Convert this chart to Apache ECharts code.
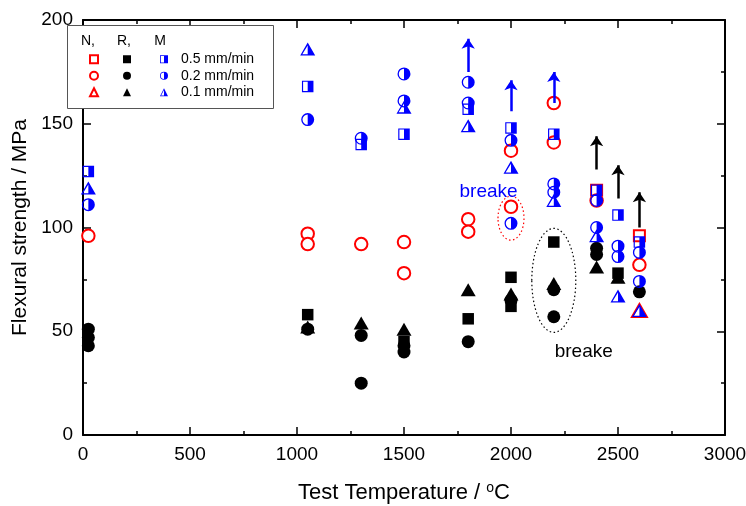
<!DOCTYPE html>
<html><head><meta charset="utf-8">
<script src="https://cdn.jsdelivr.net/npm/echarts@6/dist/echarts.min.js"></script>
<style>html,body{margin:0;padding:0;background:#fff}#c{width:746px;height:506px}</style>
</head><body><div id="c"></div>
<script>
// ---- data (test temperature °C, flexural strength MPa) ----
const xTicks = [0, 500, 1000, 1500, 2000, 2500, 3000];
const yTicks = [0, 50, 100, 150, 200];

const nSquare   = [[2400,118],[2600,96]];
const nCircle   = [[25,96],[1050,97],[1050,92],[1300,92],[1500,93],[1500,78],[1800,104],[1800,98],[2000,137],[2000,110],[2200,160],[2200,141],[2400,113],[2600,82]];
const nTriangle = [[2600,60]];

const rSquare   = [[1050,58],[1500,45],[1800,56],[2000,76],[2000,62],[2200,93],[2500,78]];
const rCircle   = [[25,51],[25,47],[25,43],[1050,51],[1300,48],[1300,25],[1500,43],[1500,40],[1800,45],[2000,65],[2200,70],[2200,57],[2400,90],[2400,87],[2600,69]];
const rTriangle = [[1050,52],[1300,54],[1500,51],[1800,70],[2000,68],[2200,73],[2400,81],[2500,76]];

const mSquare   = [[25,127],[1050,168],[1300,140],[1500,145],[1800,157],[2000,148],[2200,145],[2400,118],[2500,106],[2600,93]];
const mCircle   = [[25,111],[1050,152],[1300,143],[1500,174],[1500,161],[1800,170],[1800,160],[2000,142],[2000,102],[2200,121],[2200,117],[2400,113],[2400,100],[2500,91],[2500,86],[2600,88],[2600,74]];
const mTriangle = [[25,119],[1050,186],[1500,158],[1800,149],[2000,129],[2200,113],[2400,96],[2500,67],[2600,60]];

const blueArrowX    = [1800, 2000, 2200];
const blueArrowFrom = [175, 156, 160];
const blueArrowTo   = [191, 171, 175];
const blackArrowX    = [2400, 2500, 2600];
const blackArrowFrom = [128, 114, 100];
const blackArrowTo   = [144, 130, 117];

const ellipseX = [2000, 2200];
const ellipseY = [104.5, 74.5];
const breakLabelX = [1895, 2340];
const breakLabelY = [117, 40];
const breakLabelText = ['breake', 'breake'];

const legendHeaders = ['N,', 'R,', 'M'];
const rateLabels = ['0.5 mm/min', '0.2 mm/min', '0.1 mm/min'];

// ---- styles ----
const FONT = '"Liberation Sans", Arial, sans-serif';
const RED = '#ff0000', BLUE = '#0000ff', BLACK = '#000000';
const halfCircle = 'path://M10 0A10 10 0 1 1 10 20A10 10 0 1 1 10 0Z M10 2A8 8 0 1 0 10 18A8 8 0 1 0 10 2Z M10 2A8 8 0 0 1 10 18Z';
const halfSquare = 'path://M0 0L20 0L20 20L0 20Z M2 2L2 18L18 18L18 2Z M10 2L18 2L18 18L10 18Z';
const halfTriangle = 'path://M10 0L20 20L0 20Z M10 4.5L2.8 18L17.2 18Z M10 4.5L17.2 18L10 18Z';

function sc(name, data, symbol, size, color, z) {
  return {type:'scatter', name:name, data:data, symbol:symbol, symbolSize:size,
    itemStyle:{color:color, borderColor:color, borderWidth: symbol.indexOf('empty')===0?1.1:0, opacity:1},
    z:z, emphasis:{disabled:true}, silent:true};
}

const chart = echarts.init(document.getElementById('c'), null, {renderer:'canvas'});

const axisCommon = {
  axisLine:{show:true, onZero:false, lineStyle:{color:BLACK, width:2}},
  axisTick:{show:true, inside:true, length:8, lineStyle:{color:BLACK, width:1.5}},
  minorTick:{show:true, splitNumber:2, length:4, lineStyle:{color:BLACK, width:1.5}},
  splitLine:{show:false}
};
const plain = v => String(v);

const option = {
  animation:false,
  textStyle:{fontFamily:FONT},
  grid:{left:83, right:21, top:20, bottom:71, containLabel:false, outerBoundsMode:'none'},
  xAxis:[
    Object.assign({type:'value', min:xTicks[0], max:xTicks[xTicks.length-1], interval:500, position:'bottom',
      axisLabel:{fontSize:19, color:BLACK, margin:10, fontFamily:FONT, formatter:plain},
      name:'Test Temperature / {s|o}C', nameLocation:'middle', nameGap:46,
      nameTextStyle:{fontSize:22, color:BLACK, fontFamily:FONT,
        rich:{s:{fontSize:14, verticalAlign:'top', padding:[0,0,10,0], fontFamily:FONT, color:BLACK}}}}, axisCommon),
    Object.assign({type:'value', min:xTicks[0], max:xTicks[xTicks.length-1], interval:500, position:'top',
      axisLabel:{show:false}}, axisCommon)
  ],
  yAxis:[
    Object.assign({type:'value', min:yTicks[0], max:yTicks[yTicks.length-1], interval:50, position:'left',
      axisLabel:{fontSize:19, color:BLACK, margin:10, fontFamily:FONT, formatter:plain},
      name:'Flexural strength / MPa', nameLocation:'middle', nameGap:51, nameRotate:90,
      nameTextStyle:{fontSize:21, color:BLACK, fontFamily:FONT}}, axisCommon),
    Object.assign({type:'value', min:yTicks[0], max:yTicks[yTicks.length-1], interval:50, position:'right',
      axisLabel:{show:false}}, axisCommon)
  ],
  legend:[
    {orient:'vertical', left:84, top:46, itemWidth:8, itemHeight:8, itemGap:0, selectedMode:false, z:6,
      formatter:function(){return ' ';}, textStyle:{fontSize:14, lineHeight:16.5},
      data:['N 0.5','N 0.2','N 0.1']},
    {orient:'vertical', left:118, top:46, itemWidth:8, itemHeight:8, itemGap:0, selectedMode:false, z:6,
      formatter:function(){return ' ';}, textStyle:{fontSize:14, lineHeight:16.5},
      data:['R 0.5','R 0.2','R 0.1']},
    {orient:'vertical', left:155, top:46, itemWidth:8, itemHeight:8, itemGap:0, selectedMode:false, z:6,
      textStyle:{fontSize:14, lineHeight:16.5, color:BLACK, fontFamily:FONT, padding:[0,0,0,8]},
      data:[{name:rateLabels[0], icon:halfSquare},{name:rateLabels[1], icon:halfCircle},{name:rateLabels[2], icon:halfTriangle}]}
  ],
  series:[
    sc('N 0.5', nSquare, 'emptyRect', 11, RED, 3),
    sc('N 0.2', nCircle, 'emptyCircle', 12.5, RED, 3),
    sc('N 0.1', nTriangle, 'emptyTriangle', [15,13], RED, 3),
    sc('R 0.5', rSquare, 'rect', 11.5, BLACK, 4),
    sc('R 0.2', rCircle, 'circle', 13, BLACK, 4),
    sc('R 0.1', rTriangle, 'triangle', [15,13], BLACK, 4),
    sc(rateLabels[0], mSquare, halfSquare, 11.5, BLUE, 5),
    sc(rateLabels[1], mCircle, halfCircle, 13, BLUE, 5),
    sc(rateLabels[2], mTriangle, halfTriangle, [15,13], BLUE, 5),
    {type:'lines', coordinateSystem:'cartesian2d', xAxisIndex:0, yAxisIndex:0, silent:true, z:6,
      symbol:['none','arrow'], symbolSize:[0,10], lineStyle:{color:BLUE, width:2.5, opacity:1},
      data: blueArrowX.map((x,i)=>({coords:[[x, blueArrowFrom[i]],[x, blueArrowTo[i]]]}))},
    {type:'lines', coordinateSystem:'cartesian2d', xAxisIndex:0, yAxisIndex:0, silent:true, z:6,
      symbol:['none','arrow'], symbolSize:[0,10], lineStyle:{color:BLACK, width:2.5, opacity:1},
      data: blackArrowX.map((x,i)=>({coords:[[x, blackArrowFrom[i]],[x, blackArrowTo[i]]]}))}
  ]
};
chart.setOption(option);

// annotations positioned through the grid's own scales
const toPx = (x, y) => chart.convertToPixel({gridIndex:0}, [x, y]);
const e0 = toPx(ellipseX[0], ellipseY[0]);
const e1 = toPx(ellipseX[1], ellipseY[1]);
const b0 = toPx(breakLabelX[0], breakLabelY[0]);
const b1 = toPx(breakLabelX[1], breakLabelY[1]);
const headerX = [88, 124, 160];
chart.setOption({
  graphic:[
    {type:'rect', left:67, top:25, z:3, silent:true, shape:{width:206, height:83},
      style:{fill:'#fff', stroke:'#555', lineWidth:1}},
    ...legendHeaders.map((t,i)=>({type:'text', x:headerX[i], y:41, z:10, silent:true,
      style:{text:t, font:'14px ' + FONT, fill:BLACK, align:'center', verticalAlign:'middle'}})),
    {type:'ellipse', z:7, silent:true, shape:{cx:e0[0], cy:e0[1], rx:13, ry:22},
      style:{fill:'none', stroke:RED, lineWidth:1.2, lineDash:[1.5,2.5]}},
    {type:'ellipse', z:7, silent:true, shape:{cx:e1[0], cy:e1[1], rx:22, ry:52},
      style:{fill:'none', stroke:BLACK, lineWidth:1.2, lineDash:[1.5,2.5]}},
    {type:'text', x:b0[0], y:b0[1], z:10, silent:true,
      style:{text:breakLabelText[0], font:'19px ' + FONT, fill:BLUE, align:'center', verticalAlign:'middle'}},
    {type:'text', x:b1[0], y:b1[1], z:10, silent:true,
      style:{text:breakLabelText[1], font:'19px ' + FONT, fill:BLACK, align:'center', verticalAlign:'middle'}}
  ]
});
</script></body></html>
